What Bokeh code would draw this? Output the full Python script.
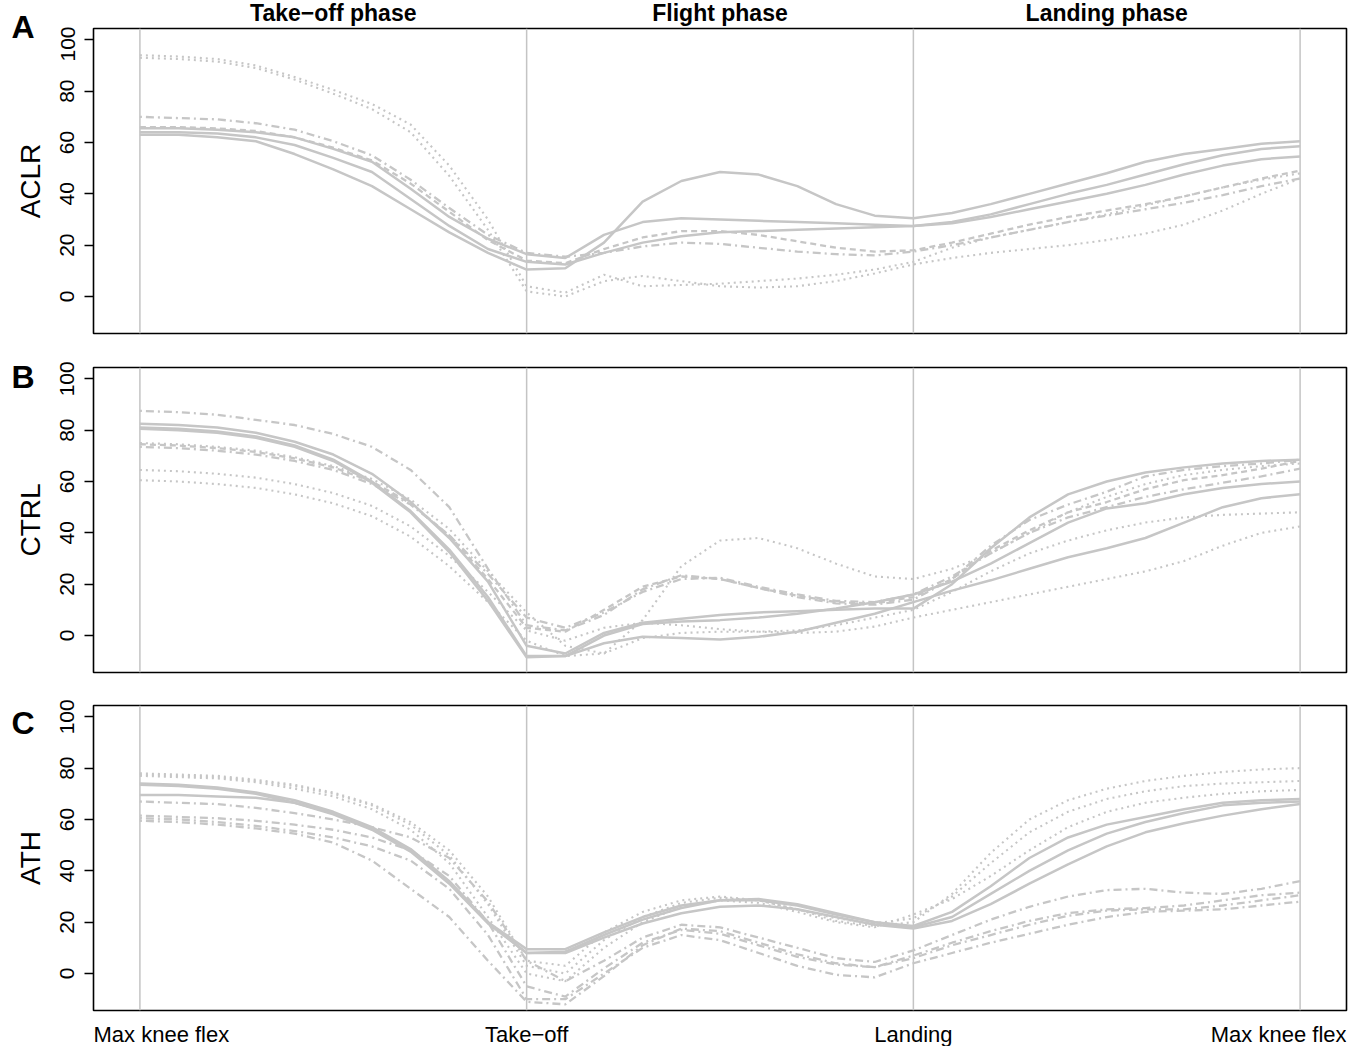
import math
from bokeh.plotting import figure
from bokeh.models import Span, Label, FixedTicker, Range1d
from bokeh.layouts import column, row
from bokeh.embed import file_html
from bokeh.resources import INLINE

# ---------------- data ----------------
X = [0.0, 0.1, 0.2, 0.3, 0.4, 0.5, 0.6, 0.7, 0.8, 0.9, 1.0,
     1.1, 1.2, 1.3, 1.4, 1.5, 1.6, 1.7, 1.8, 1.9, 2.0,
     2.1, 2.2, 2.3, 2.4, 2.5, 2.6, 2.7, 2.8, 2.9, 3.0]

GROUPS = ["ACLR", "CTRL", "ATH"]
LETTERS = ["A", "B", "C"]
PHASES = ["Take\u2212off phase", "Flight phase", "Landing phase"]
PHASE_CENTERS = [0.5, 1.5, 2.5]
EVENTS = [0, 1, 2, 3]
EVENT_LABELS = ["Max knee flex", "Take\u2212off", "Landing", "Max knee flex"]
Y_TICKS = [0, 20, 40, 60, 80, 100]

ACLR_SOLID = [
    [63, 63, 62, 60.5, 55.5, 49.5, 43, 34, 25, 17, 10.5, 11, 21, 37, 45, 48.5, 47.5, 43, 36, 31.5, 30.5, 32.5, 36, 40, 44, 48, 52.5, 55.5, 57.5, 59.5, 60.5],
    [65.5, 65.5, 65, 64, 62, 57.5, 52.5, 42, 31, 22.5, 16.5, 15, 24, 29, 30.5, 30, 29.5, 29, 28.5, 28, 27.5, 29, 32, 36, 40, 43.5, 47.5, 51.5, 55, 57.5, 58.5],
    [64, 64, 63.5, 62, 59, 54, 48.5, 38, 27.5, 18.5, 13.5, 12.5, 17, 21, 23.5, 25, 25.5, 26, 26.5, 27, 27.5, 28.5, 31, 34, 37, 40, 43.5, 47.5, 51, 53.5, 54.5],
]
ACLR_DASHED = [
    [66, 66, 65.5, 64.5, 62, 58, 53, 44, 33, 22, 14, 13, 18.5, 23, 25.5, 25.5, 24, 21.5, 19, 17.5, 18, 21, 24.5, 28, 31, 33.5, 36, 39, 42.5, 46, 49],
]
ACLR_DOTDASH = [
    [70, 69.5, 69, 67.5, 65, 60.5, 55, 45.5, 34.5, 24, 17, 15.5, 17, 19.5, 21, 20.5, 19, 17.5, 16.5, 16, 17.5, 20, 23, 26, 29, 31.5, 34, 36.5, 39.5, 43, 46],
]
ACLR_DOTTED = [
    [94, 93.5, 92.5, 90, 85.5, 80.5, 75, 67, 51, 30, 4, 1.5, 8.5, 4, 4.5, 5, 6, 7, 8.5, 10.5, 13.5, 19, 23, 26, 29, 32, 35.5, 39, 42.5, 45.5, 48],
    [93, 92.5, 91.5, 89, 84.5, 79, 73, 64, 47, 26, 2, 0, 6, 8, 6, 4, 3.5, 4, 6, 9, 12.5, 15, 17, 18.5, 20, 22, 24.5, 28, 33.5, 40, 46],
]

CTRL_SOLID = [
    [82.5, 82, 81, 79, 75.5, 70.5, 63, 52, 38, 21, -4, -7, 1, 5, 6.5, 8, 9, 9.5, 10, 10.5, 10.5, 20, 34, 46, 55, 60, 63.5, 65.5, 67, 68, 68.5],
    [81, 80.5, 79.5, 77.5, 74, 68.5, 60, 48.5, 33.5, 15, -8, -8, 0, 4.5, 5.5, 6, 7, 8.5, 10.5, 13, 16, 21, 28, 36, 44, 49.5, 51.5, 55, 57.5, 59, 60],
    [80.5, 80, 79, 77, 73.5, 68, 59.5, 48, 32.5, 13.5, -8.5, -8, -3, -0.5, -1, -1.5, -0.5, 1.5, 5, 8.5, 13, 17.5, 21.5, 26, 30.5, 34, 38, 44, 50, 53.5, 55],
]
CTRL_DASHED = [
    [74.5, 74, 73, 71.5, 69, 65.5, 60, 51.5, 39, 22, 3, 1.5, 10, 19, 23, 22, 18.5, 15.5, 13, 12.5, 15, 22, 33, 41, 48, 52, 57, 60.5, 62.5, 65, 68],
]
CTRL_DOTDASH = [
    [87.5, 87, 86, 84, 82, 78.5, 73.5, 64.5, 50, 26, 4, 2, 8, 18, 23.5, 22, 18.5, 15, 12.5, 12, 14, 22, 35, 45, 51, 56, 62, 64.5, 66, 67, 68.5],
    [73.5, 73, 72, 70.5, 68, 64.5, 59, 51, 39, 24, 7, 3, 9, 17, 22, 22.5, 19, 16, 13.5, 13, 16, 23, 32, 40, 46, 50, 54, 57, 59.5, 62, 65],
]
CTRL_DOTTED = [
    [75, 74.5, 73.5, 72, 69.5, 66, 61, 53, 41.5, 25, 9, -4, -7, 6, 27, 37, 38, 34, 28, 23, 22, 26, 32, 40, 48, 54, 59, 62.5, 64.5, 66, 67],
    [64.5, 64, 63, 61.5, 59, 55.5, 50.5, 42.5, 31, 17, 2, -2, 3, 5, 4, 2.5, 1.5, 1, 1.5, 3.5, 7, 10, 13, 16, 19, 22, 25, 29, 35, 40, 42.5],
    [60.5, 60, 59, 57.5, 55, 51.5, 46.5, 38.5, 27, 13, -2, -8, -7, -1, 1, 1.5, 1.5, 2, 4, 7, 10, 17, 25, 32, 37, 41, 44, 46, 47, 47.5, 48],
]

ATH_SOLID = [
    [74, 73.5, 72.5, 70.5, 67.5, 63, 57, 48.5, 36, 20, 9.5, 9.5, 16, 22, 26.5, 28.5, 28.5, 26.5, 23, 20, 18.5, 24, 34, 45, 53, 58, 61, 64, 66.5, 67.5, 68],
    [73.5, 73, 72, 70, 66.5, 62, 56, 47.5, 35, 19.5, 8, 8.5, 15, 21, 25.5, 28.5, 29, 27, 23.5, 20, 18, 22, 31, 40, 48, 54.5, 59, 62.5, 65.5, 66.5, 67],
    [69.5, 69.5, 69, 68.5, 66.5, 62.5, 56.5, 48, 35.5, 20, 8, 8, 14, 19.5, 23.5, 26, 26.5, 25, 22, 19, 17.5, 20.5, 27, 35, 42.5, 49.5, 55, 58.5, 61.5, 64, 66],
]
ATH_DOTTED = [
    [78, 77.5, 77, 75.5, 73.5, 70.5, 66, 59, 48, 30, 5, 3, 16, 24, 28.5, 30, 28.5, 25, 20.5, 18.5, 20, 31, 47, 60, 67.5, 72, 75, 77, 78.5, 79.5, 80],
    [77.5, 77, 76.5, 75, 73, 70, 65.5, 58, 46, 27, 3, 0, 13, 22, 27.5, 29.5, 28.5, 25, 21.5, 19.5, 21.5, 30, 43, 55, 63, 68, 71, 73, 74, 74.5, 75],
    [77, 76.5, 76, 74.5, 72, 69, 64, 56, 43, 22, 0, -3, 10, 20, 26, 28.5, 27.5, 24, 20, 18, 23, 29, 38, 48, 57, 63, 66.5, 68.5, 70, 71, 71.5],
]
ATH_DOTDASH = [
    [67, 66.5, 66, 64.5, 62.5, 60, 57, 53, 45, 28, 5, -3, 5, 14, 19, 18, 14, 10, 6, 4.5, 9, 15, 21, 26, 30, 32.5, 33, 31.5, 31, 33, 36],
    [61.5, 61, 60.5, 59.5, 58, 56, 53, 48, 38, 20, -5, -9, 2, 12, 17, 15.5, 11, 6.5, 3.5, 2.5, 7, 12, 16.5, 20.5, 23.5, 25, 25.5, 26.5, 28.5, 30.5, 31.5],
    [60.5, 60, 59, 57.5, 55.5, 53, 49.5, 44, 33, 15, -10, -10, 0, 10, 15, 13, 8, 3, -0.5, -1.5, 4, 8, 12, 15.5, 19, 22, 24, 24.5, 25, 26.5, 28],
    [59.5, 59, 58, 56.5, 54.5, 51, 44, 33, 22, 5, -11, -12, -1, 11, 17.5, 16.5, 12, 7.5, 4, 2.5, 6, 11, 15, 19, 22.5, 24.5, 25, 25, 26.5, 28.5, 30.5],
]

PANEL_SERIES = [
    {"dotted": ACLR_DOTTED, "dashed": ACLR_DASHED, "dotdash": ACLR_DOTDASH, "solid": ACLR_SOLID},
    {"dotted": CTRL_DOTTED, "dashed": CTRL_DASHED, "dotdash": CTRL_DOTDASH, "solid": CTRL_SOLID},
    {"dotted": ATH_DOTTED, "dotdash": ATH_DOTDASH, "solid": ATH_SOLID},
]

# ---------------- style / layout ----------------
FONT = "Liberation Sans"
LINE_COLOR = "#c6c6c6"
VLINE_COLOR = "#c4c4c4"
DASH = {"solid": "solid", "dashed": "6 4", "dotted": "2 4", "dotdash": "2 4 8 4"}
WIDTH = {"solid": 2.5, "dashed": 2.3, "dotted": 2.1, "dotdash": 2.3}
X_LO, X_HI = -0.12, 3.12
Y_LO, Y_HI = -14.4, 104.4
FRAME_W, FRAME_H = 1253, 305
LEFT_W = 48          # strip holding panel letters and group names
AXIS_W = 45          # room for y ticks + tick labels
RIGHT_B = 2
TOP_H = 26           # strip with phase titles
BOTTOM_H = 34        # strip with event labels
PANEL_TOPS = [2, 17, 17]
PANEL_BOTS = [17, 16, 2]
LETTER_DY = [-1.5, 9.5, 17.5]   # letter centre below the frame top (px)


def strip(height):
    p = figure(frame_width=FRAME_W, frame_height=height,
               x_range=Range1d(X_LO, X_HI), y_range=Range1d(0, height),
               x_axis_location=None, y_axis_location=None,
               output_backend="svg", toolbar_location=None,
               min_border_left=AXIS_W, min_border_right=RIGHT_B,
               min_border_top=0, min_border_bottom=0)
    p.grid.visible = False
    p.outline_line_color = None
    return p


def make_panel(i):
    p = figure(frame_width=FRAME_W, frame_height=FRAME_H,
               x_range=Range1d(X_LO, X_HI), y_range=Range1d(Y_LO, Y_HI),
               x_axis_location=None, output_backend="svg", toolbar_location=None,
               min_border_left=AXIS_W, min_border_right=RIGHT_B,
               min_border_top=PANEL_TOPS[i], min_border_bottom=PANEL_BOTS[i])
    p.grid.visible = False
    p.background_fill_color = "white"
    p.border_fill_color = "white"
    p.outline_line_color = "black"
    p.outline_line_width = 1.6
    p.outline_line_alpha = 1.0

    ax = p.yaxis[0]
    ax.ticker = FixedTicker(ticks=Y_TICKS)
    ax.axis_line_color = None
    ax.major_tick_out = 9
    ax.major_tick_in = 0
    ax.major_tick_line_color = "black"
    ax.major_tick_line_width = 1.3
    ax.minor_tick_line_color = None
    ax.major_label_orientation = "parallel"
    ax.major_label_standoff = 10
    ax.major_label_text_font = FONT
    ax.major_label_text_font_size = "21px"
    ax.major_label_text_color = "black"

    for e in EVENTS:
        p.add_layout(Span(location=e, dimension="height", line_color=VLINE_COLOR,
                          line_width=1.5, level="underlay"))

    for style, series in PANEL_SERIES[i].items():
        for ys in series:
            p.line(X, ys, line_color=LINE_COLOR, line_width=WIDTH[style],
                   line_dash=DASH[style])
    return p


# top strip: phase titles
top = strip(TOP_H)
for c, t in zip(PHASE_CENTERS, PHASES):
    top.add_layout(Label(x=c, y=TOP_H - 12, text=t, text_font=FONT,
                         text_font_style="bold", text_font_size="23px",
                         text_align="center", text_baseline="middle",
                         text_color="black"))

panels = [make_panel(i) for i in range(len(GROUPS))]

# bottom strip: event labels
bottom = strip(BOTTOM_H)
n = len(EVENTS)
for k, (e, t) in enumerate(zip(EVENTS, EVENT_LABELS)):
    if k == 0:
        xx, al = X_LO, "left"
    elif k == n - 1:
        xx, al = X_HI, "right"
    else:
        xx, al = e, "center"
    bottom.add_layout(Label(x=xx, y=BOTTOM_H - 9, text=t, text_font=FONT,
                            text_font_size="22px", text_align=al,
                            text_baseline="top", text_color="black"))

# left strip: panel letters and group names (pixel coordinates)
heights = [PANEL_TOPS[i] + FRAME_H + PANEL_BOTS[i] for i in range(3)]
TOTAL_H = TOP_H + sum(heights) + BOTTOM_H
left = figure(frame_width=LEFT_W, frame_height=TOTAL_H,
              x_range=Range1d(0, LEFT_W), y_range=Range1d(0, TOTAL_H),
              x_axis_location=None, y_axis_location=None,
              output_backend="svg", toolbar_location=None,
              min_border_left=0, min_border_right=0,
              min_border_top=0, min_border_bottom=0)
left.grid.visible = False
left.outline_line_color = None
y0 = TOP_H
for i in range(3):
    frame_top = y0 + PANEL_TOPS[i]
    left.add_layout(Label(x=22.5, y=TOTAL_H - (frame_top + LETTER_DY[i]), text=LETTERS[i],
                          text_font=FONT, text_font_style="bold", text_font_size="32px",
                          text_align="center", text_baseline="middle", text_color="black"))
    left.add_layout(Label(x=30, y=TOTAL_H - (frame_top + FRAME_H / 2), text=GROUPS[i],
                          angle=math.pi / 2, text_font=FONT, text_font_size="28px",
                          text_align="center", text_baseline="middle", text_color="black"))
    y0 += heights[i]

right = column(top, *panels, bottom, spacing=0)
layout = row(left, right, spacing=0)
open("out.html", "w").write(file_html(layout, INLINE, "Knee flexion"))
